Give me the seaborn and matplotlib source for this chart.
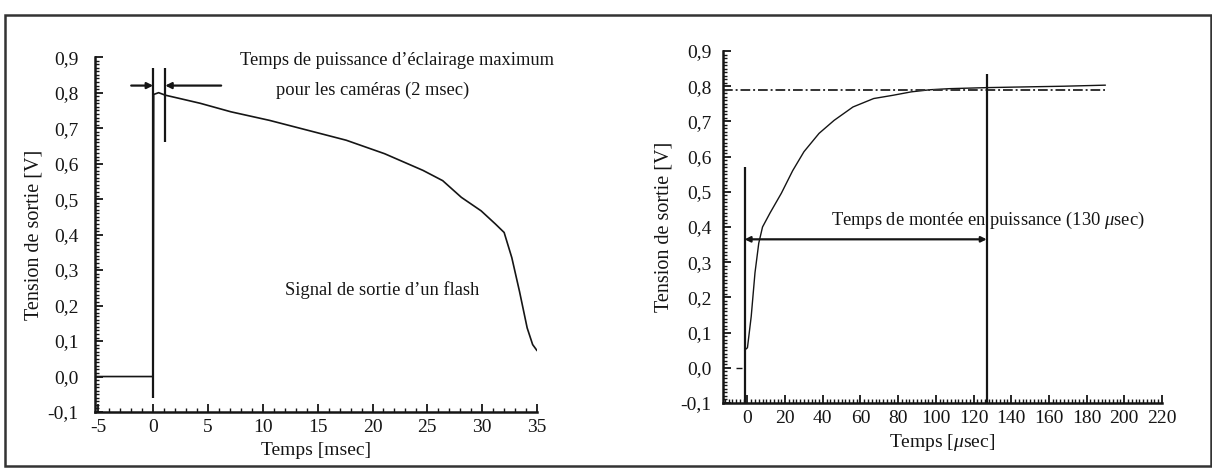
import numpy as np
import pandas as pd
import matplotlib
matplotlib.use("Agg")
import matplotlib.pyplot as plt
from matplotlib.patches import Rectangle
from matplotlib.ticker import MultipleLocator
import seaborn as sns

# Data
flash_t = [-5.2, 0.0, 0.05, 0.5, 1.1, 2.5, 4.3, 7.1, 10.6, 14.1, 17.6, 21.1, 24.6,
           26.4, 28.1, 29.9, 31.2, 32.0, 32.7, 33.4, 34.1, 34.6, 35.0]
flash_v = [0.0, 0.0, 0.795, 0.80, 0.793, 0.783, 0.77, 0.746, 0.722, 0.694, 0.666,
           0.628, 0.581, 0.552, 0.505, 0.467, 0.43, 0.406, 0.335, 0.24, 0.137, 0.09, 0.073]

rise_t = [-1.5, 0, 2, 4, 6, 8, 12, 18, 24, 30, 38, 46, 56, 67, 77, 87, 97, 107,
          127, 147, 168, 190]
rise_v = [0.05, 0.057, 0.146, 0.27, 0.354, 0.40, 0.44, 0.496, 0.56, 0.614, 0.666,
          0.703, 0.741, 0.765, 0.774, 0.784, 0.79, 0.793, 0.796, 0.798, 0.80, 0.803]

y_ticks = [-0.1, 0.0, 0.1, 0.2, 0.3, 0.4, 0.5, 0.6, 0.7, 0.8, 0.9]
y_labels = ['-0,1', '0,0', '0,1', '0,2', '0,3', '0,4', '0,5', '0,6', '0,7', '0,8', '0,9']
flash_xticks = [-5, 0, 5, 10, 15, 20, 25, 30, 35]
flash_xlabels = ['-5', '0', '5', '10', '15', '20', '25', '30', '35']
rise_xticks = [0, 20, 40, 60, 80, 100, 120, 140, 160, 180, 200, 220]
rise_xlabels = [str(t) for t in rise_xticks]

sns.set_theme(style="ticks")
plt.rcParams['font.family'] = ['Liberation Serif', 'DejaVu Serif']
plt.rcParams['mathtext.fontset'] = 'custom'
plt.rcParams['mathtext.it'] = 'Liberation Serif:italic'
plt.rcParams['mathtext.rm'] = 'Liberation Serif'
plt.rcParams['axes.unicode_minus'] = False

ink = '#151515'

fig = plt.figure(figsize=(12.12, 4.75), dpi=100)
fig.patches.append(Rectangle((0.004, 0.019), 0.995, 0.949, transform=fig.transFigure,
                             fill=False, edgecolor='#333333', linewidth=1.8))

ax1 = fig.add_axes([0.0784, 0.1326, 0.3647, 0.747])
ax2 = fig.add_axes([0.5965, 0.1516, 0.3622, 0.741])


def style_axis(ax, xticks, xlabels, xminor, xlim, ypad, ylabelpad):
    sns.despine(ax=ax)
    for s in ['left', 'bottom']:
        ax.spines[s].set_linewidth(1.8)
        ax.spines[s].set_color(ink)
    ax.set_ylim(-0.1, 0.9)
    ax.set_xlim(*xlim)
    ax.set_yticks(y_ticks)
    ax.set_yticklabels(y_labels)
    ax.set_xticks(xticks)
    ax.set_xticklabels(xlabels)
    ax.yaxis.set_minor_locator(MultipleLocator(0.01))
    ax.xaxis.set_minor_locator(MultipleLocator(xminor))
    ax.tick_params(which='major', direction='in', length=6, width=1.3, color=ink,
                   labelsize=14, labelcolor=ink)
    ax.tick_params(which='minor', direction='in', length=3, width=1.0, color=ink)
    ax.tick_params(axis='y', pad=ypad)
    ax.tick_params(axis='x', pad=5)
    ax.set_ylabel('Tension de sortie [V]', fontsize=14.5, color=ink, labelpad=ylabelpad)


# Left panel: flash output signal
sns.lineplot(x=flash_t, y=flash_v, ax=ax1, color=ink, linewidth=1.2, sort=False)
style_axis(ax1, flash_xticks, flash_xlabels, 1, (-5.3, 35), 12, 3)
ax1.set_xlabel('Temps [msec]', fontsize=14, color=ink, labelpad=4)
ax1.vlines(0, -0.06, 0.87, color=ink, linewidth=1.6)
ax1.vlines(1.1, 0.66, 0.87, color=ink, linewidth=1.6)
arrow = dict(arrowstyle='-|>', color=ink, linewidth=1.6, mutation_scale=9,
             shrinkA=0, shrinkB=0)
ax1.annotate('', xy=(0, 0.82), xytext=(-2.0, 0.82), arrowprops=arrow)
ax1.annotate('', xy=(1.1, 0.82), xytext=(6.2, 0.82), arrowprops=arrow)
ax1.text(22.2, 0.89, 'Temps de puissance d\u2019éclairage maximum', ha='center',
         va='center', fontsize=13.3, color=ink)
ax1.text(20.0, 0.807, 'pour les caméras (2 msec)', ha='center', va='center',
         fontsize=13.3, color=ink)
ax1.text(20.9, 0.245, 'Signal de sortie d\u2019un flash', ha='center', va='center',
         fontsize=13.3, color=ink)

# Right panel: rise time
sns.lineplot(x=rise_t, y=rise_v, ax=ax2, color=ink, linewidth=1.0, sort=False)
style_axis(ax2, rise_xticks, rise_xlabels, 2, (-13, 220), 8, 5)
ax2.set_xlabel('Temps [$\\mu$sec]', fontsize=14, color=ink, labelpad=4)
ax2.hlines(0.79, -13, 190, color='#333333', linewidth=1.4,
           linestyles=(0, (5, 1.5, 1, 1.5)))
ax2.vlines(-1.5, -0.1, 0.57, color=ink, linewidth=1.6)
ax2.vlines(127, -0.1, 0.835, color=ink, linewidth=1.6)
ax2.hlines(0.0, -6, -3, color=ink, linewidth=1.0)
ax2.annotate('', xy=(-1.5, 0.365), xytext=(127, 0.365),
             arrowprops=dict(arrowstyle='<|-|>', color=ink, linewidth=1.6,
                             mutation_scale=8, shrinkA=0, shrinkB=0))
ax2.text(127.5, 0.42, 'Temps de montée en puissance (130 $\\mu$sec)', ha='center',
         va='center', fontsize=13.3, color=ink)

fig.savefig('out.png', dpi=100)
